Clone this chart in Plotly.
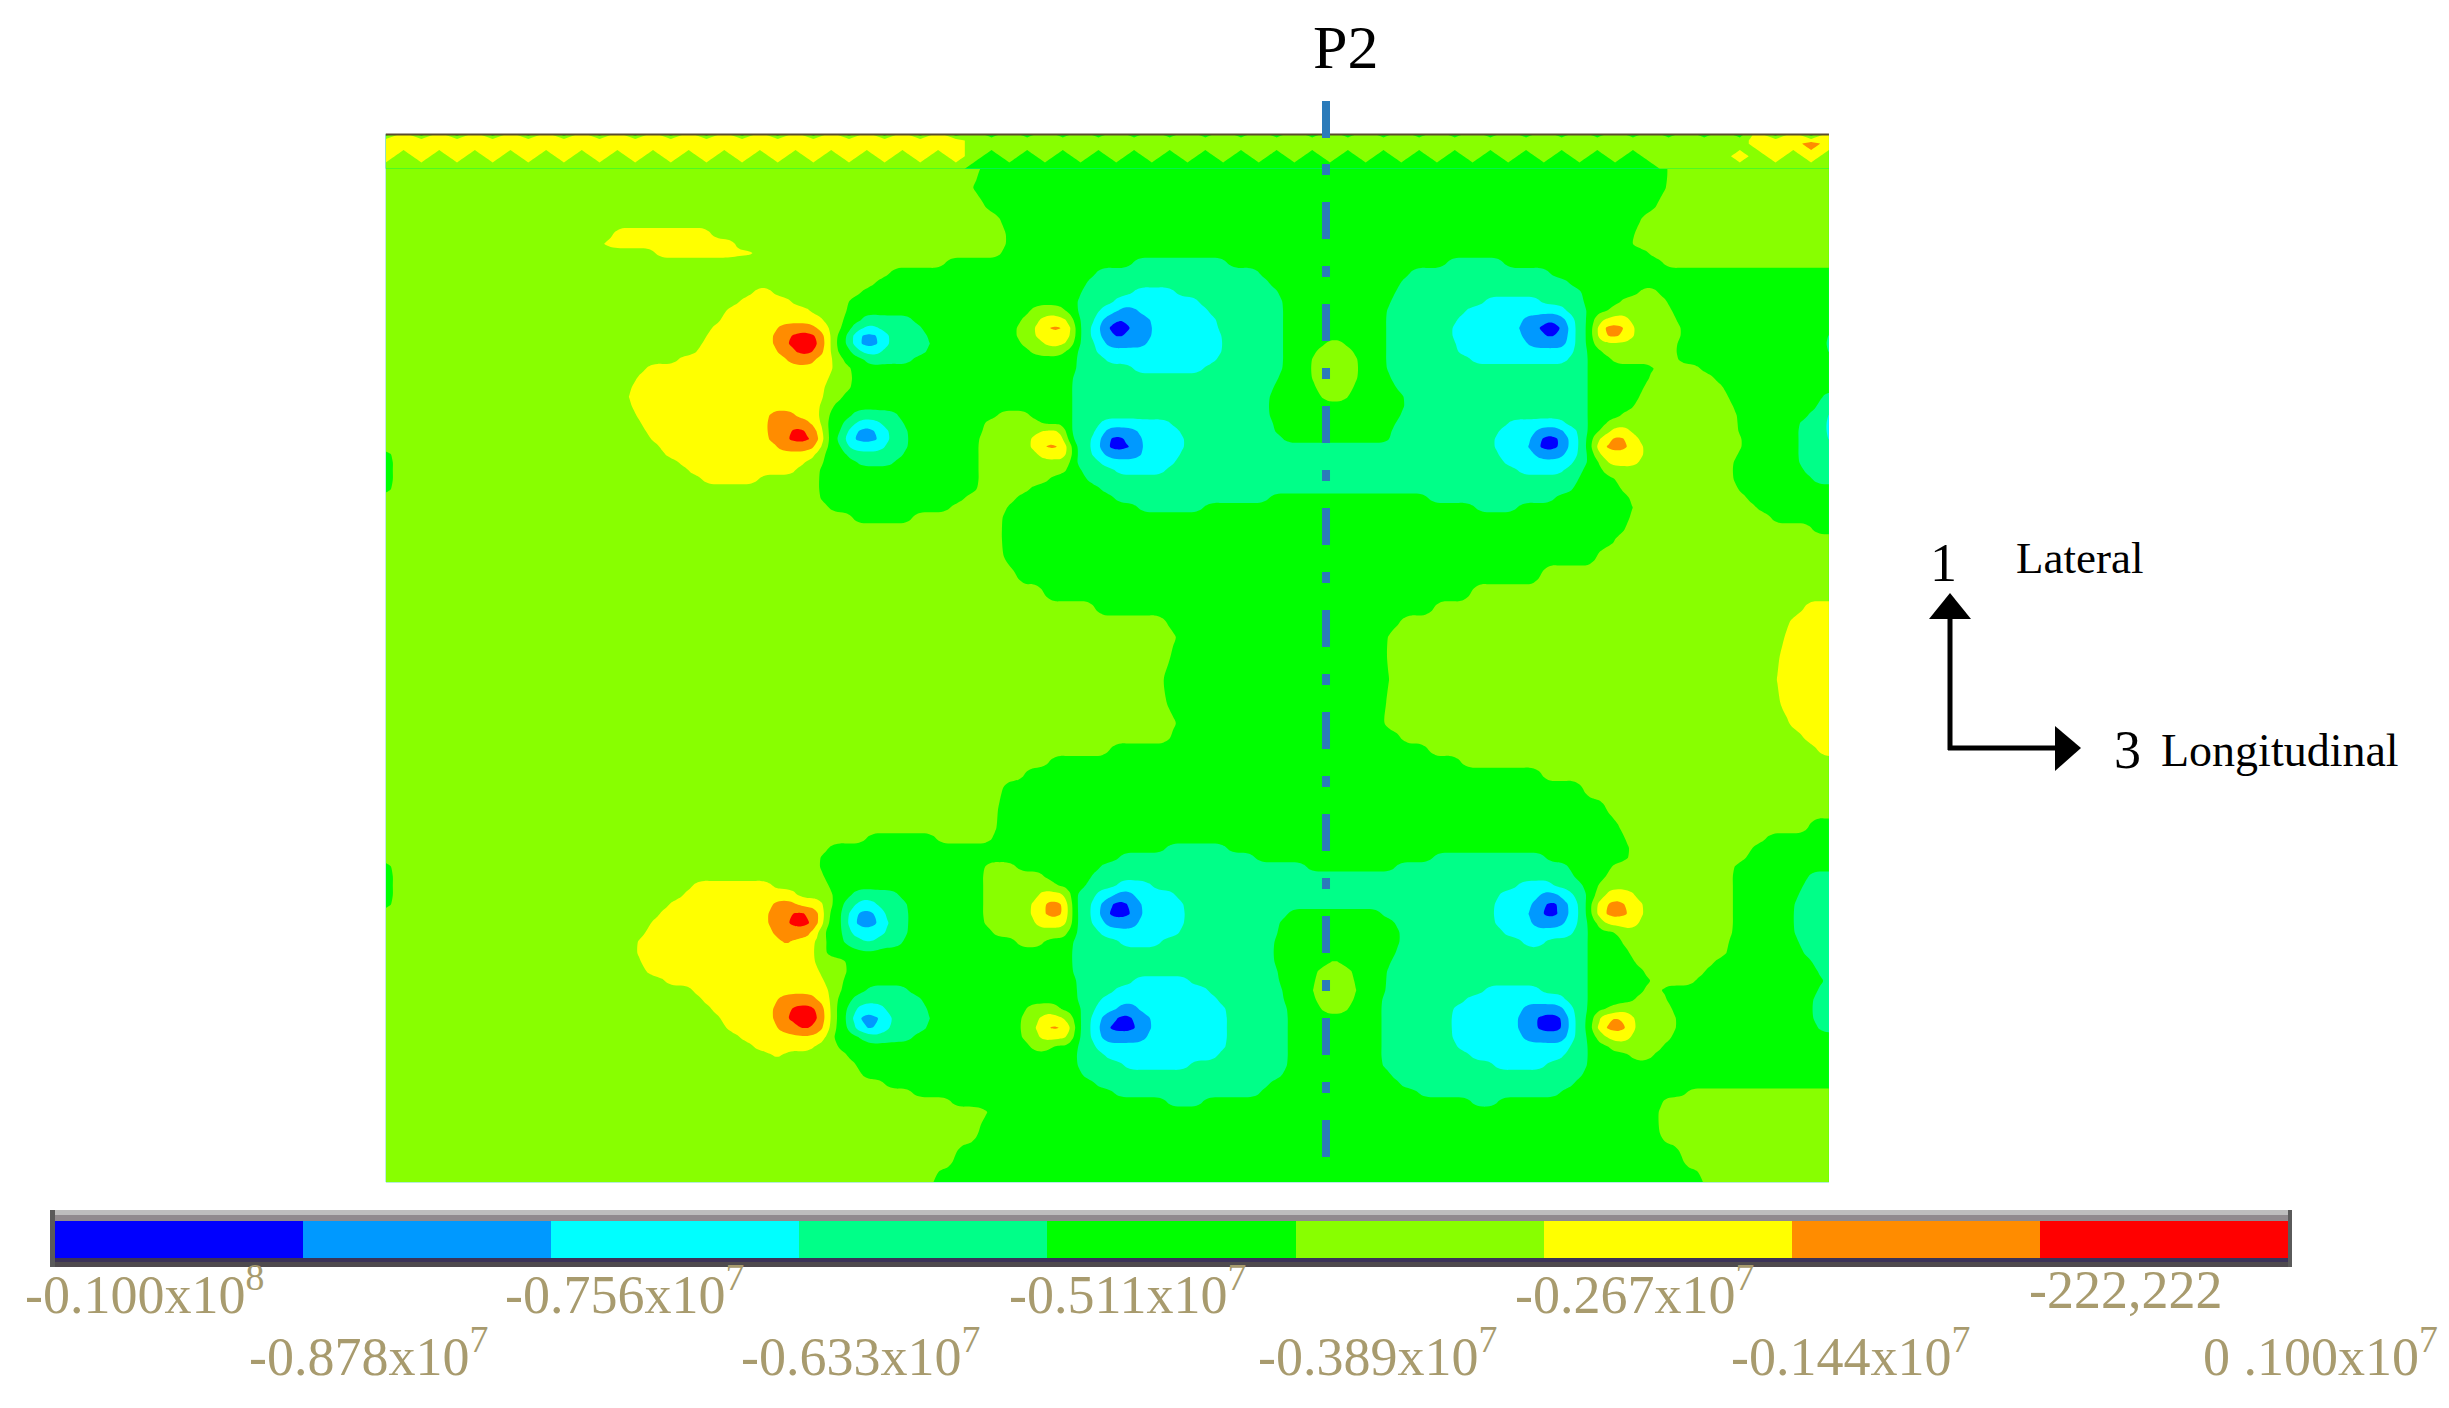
import numpy as np
import plotly.graph_objects as go

W, H = 2449, 1408
K = W / 1568.0  # reference pixels per reading unit

# Nine colour bands and their stress limits (Pa)
band_edges = [-1.0e7, -8.78e6, -7.56e6, -6.33e6, -5.11e6, -3.89e6, -2.67e6, -1.44e6, -222222, 1.0e6]
band_colors = ["#0000ff", "#0099ff", "#00ffff", "#00ff88", "#00ff00", "#88ff00", "#ffff00", "#ff8c00", "#ff0000"]
band_labels_top = ["-0.100x10<sup>8</sup>", "-0.756x10<sup>7</sup>", "-0.511x10<sup>7</sup>", "-0.267x10<sup>7</sup>", "-222,222"]
band_labels_bottom = ["-0.878x10<sup>7</sup>", "-0.633x10<sup>7</sup>", "-0.389x10<sup>7</sup>", "-0.144x10<sup>7</sup>", "0 .100x10<sup>7</sup>"]

# Field: one row per y, "band:x where band ends" runs from left to right
row_y = [86,104,112,120,130,142,150,156,162,168,175,181,187,193,199,205,210,215,220,225,230,236,242,248,254,260,266,271,276,281,286,291,296,301,307,313,319,325,331,339,345,356,368,380,390,398,408,420,435,450,463,472,480,488,495,505,518,530,537,543,549,555,561,567,573,579,585,591,597,603,610,616,622,628,634,640,646,652,658,664,670,676,682,688,694,700,705,712,725,740,757]
row_runs = [
"5:630 4:1066 5",
"5:630 4:1066 5",
"5:625 4:1068 5",
"5:620 4:1068 5",
"5:630 4:1060 5",
"5:640 4:1048 5",
"5:392 6:455 5:645 4:1045 5",
"5:384 6:470 5:643 4:1044 5",
"5:420 6:486 5:642 4:1055 5",
"5:606 4:725 3:785 4:925 3:962 4:1065 5",
"5:570 4:700 3:806 4:902 3:993 4",
"5:560 4:694 3:813 4:895 3:1003 4",
"5:482 6:494 5:552 4:691 3:725 2:752 3:817 4:892 3:1012 4:1050 5:1060 4",
"5:473 6:505 5:543 4:690 3:712 2:767 3:820 4:889 3:950 2:985 3:1014 4:1038 5:1066 4",
"5:465 6:517 5:541 4:660 5:680 4:689 3:703 2:715 1:727 2:774 3:821 4:887 3:937 2:1000 3:1015 4:1030 5:1070 4",
"5:460 6:527 5:539 4:552 3:585 4:652 5:666 6:682 5:688 3:700 2:704 1:713 0:718 1:737 2:778 3:821 4:887 3:932 2:975 1:988 0:994 1:1003 2:1006 3:1016 4:1018 5:1025 6:1042 5:1074 4",
"5:456 6:498 7:522 6:530 5:539 4:545 3:553 2:560 3:591 4:650 5:661 6:669 7:682 6:685 5:688 3:699 2:703 1:707 0:726 1:738 2:780 3:821 4:887 3:930 2:972 1:982 0:1002 1:1004 2:1006 3:1016 4:1018 5:1021 6:1026 7:1040 6:1046 5:1076 4",
"5:453 6:494 7:505 8:523 7:526 6:533 4:541 3:545 2:549 1:563 2:568 3:594 4:650 5:662 6:686 5:688 3:699 2:704 1:712 0:720 1:737 2:781 3:821 4:887 3:930 2:973 1:988 0:996 1:1004 2:1006 3:1016 4:1018 5:1021 6:1026 7:1040 6:1047 5:1076 4:1168 3",
"5:449 6:494 7:504 8:525 7:527 6:533 4:541 3:544 2:549 1:563 2:570 3:595 4:652 5:668 6:684 5:688 3:700 2:707 1:735 2:782 3:821 4:847 5:861 4:887 3:931 2:976 1:1003 2:1006 3:1016 4:1020 5:1074 4:1168 3",
"5:446 6:496 7:510 8:520 7:526 6:533 4:546 3:552 2:562 3:592 4:660 5:680 4:688 3:702 2:782 3:821 4:843 5:865 4:887 3:933 2:1006 3:1016 4:1025 5:1072 4:1168 3",
"5:433 6:502 7:522 6:533 5:540 4:555 3:585 4:688 3:708 2:780 3:821 4:840 5:868 4:887 3:940 2:1003 3:1016 4:1032 5:1072 4",
"5:414 6:533 5:546 4:688 3:725 2:770 3:821 4:839 5:869 4:888 3:1016 4:1060 5:1088 4",
"5:408 6:531 5:545 4:687 3:818 4:840 5:868 4:891 3:1017 4:1056 5:1098 4",
"5:404 6:528 5:544 4:686 3:815 4:841 5:867 4:894 3:1017 4:1053 5:1104 4",
"5:402 6:526 5:540 4:685 3:813 4:845 5:863 4:898 3:1017 4:1050 5:1106 4:1166 3",
"5:403 6:524 5:532 4:685 3:812 4:899 3:1017 4:1045 5:1108 4:1162 3",
"5:406 6:491 7:510 6:525 5:530 4:544 3:574 4:638 5:658 4:685 3:812 4:896 3:1017 4:1038 5:1111 4:1156 3:1168 2",
"5:409 6:491 7:518 6:526 4:539 3:547 2:563 3:579 4:630 5:664 4:685 3:705 2:750 3:814 4:893 3:965 2:1002 3:1017 4:1029 5:1112 4:1152 3:1168 2",
"5:412 6:491 7:506 8:516 7:525 6:527 4:538 3:541 2:547 1:561 2:569 3:581 4:628 5:664 6:680 5:684 3:700 2:708 1:727 2:756 3:815 4:890 3:958 2:983 1:1000 2:1009 3:1017 4:1025 5:1030 6:1042 5:1113 4:1150 3:1168 2",
"5:416 6:491 7:504 8:520 7:526 4:537 3:540 2:544 1:564 2:570 3:582 4:627 5:660 6:684 3:698 2:704 1:710 0:720 1:731 2:757 3:820 4:890 3:957 2:979 1:986 0:997 1:1004 2:1010 3:1017 4:1020 5:1022 6:1030 7:1040 6:1050 5:1114 4:1150 3:1168 2",
"5:421 6:496 7:522 6:527 4:538 3:543 2:567 3:581 4:627 5:659 6:666 7:679 6:686 3:698 2:703 1:706 0:724 1:732 2:757 3:957 2:978 1:984 0:999 1:1005 2:1010 3:1017 4:1020 6:1026 7:1043 6:1053 5:1114 4:1150 3",
"4:252 5:425 6:522 5:528 4:541 3:578 4:627 5:664 6:686 3:699 2:706 1:730 2:756 3:958 2:983 1:1002 2:1009 3:1016 4:1022 6:1052 5:1112 4:1150 3",
"4:252 5:433 6:516 5:527 4:548 3:573 4:627 5:686 3:703 2:752 3:963 2:1006 3:1015 4:1024 5:1028 6:1048 5:1110 4:1152 3",
"4:252 5:440 6:509 5:525 4:627 5:682 4:692 3:712 2:745 3:972 2:1002 3:1012 4:1026 5:1108 4:1155 3",
"4:252 5:448 6:486 5:525 4:627 5:672 4:695 3:1010 4:1034 5:1108 4:1160 3",
"4:251 5:524 4:627 5:660 4:704 3:1006 4:1038 5:1113 4",
"5:525 4:618 5:650 4:712 3:812 4:915 3:994 4:1042 5:1118 4",
"5:530 4:607 5:645 4:728 3:770 4:945 3:970 4:1045 5:1124 4",
"5:545 4:585 5:642 4:1043 5:1132 4",
"5:642 4:1039 5:1160 4",
"5:642 4:1034 5",
"5:642 4:1022 5",
"5:650 4:987 5",
"5:668 4:942 5",
"5:700 4:917 5:1154 6",
"5:746 4:897 5:1146 6",
"5:755 4:886 5:1142 6",
"5:748 4:888 5:1139 6",
"5:742 4:890 5:1137 6",
"5:745 4:887 5:1139 6",
"5:755 4:884 5:1146 6",
"5:748 4:895 5:1155 6",
"5:710 4:914 5:1162 6",
"5:670 4:935 5",
"5:655 4:985 5",
"5:640 4:1012 5",
"5:639 4:1027 5",
"5:639 4:1036 5:1158 4",
"5:555 4:600 5:634 4:1040 5:1130 4",
"5:529 4:745 3:785 4:1044 5:1122 4",
"5:524 4:715 3:803 4:918 3:990 4:1042 5:1118 4",
"4:250 5:524 4:630 5:650 4:703 3:835 4:892 3:1003 4:1032 5:1108 4",
"4:251 5:526 4:628 5:668 4:697 3:1008 4:1027 5:1108 4:1158 3",
"4:252 5:443 6:495 5:530 4:629 5:674 4:694 3:716 2:738 3:972 2:993 3:1012 4:1023 5:1108 4:1153 3",
"4:252 5:436 6:510 5:533 4:545 3:575 4:628 5:666 6:682 5:687 3:701 2:712 1:724 2:752 3:960 2:985 1:997 2:1006 3:1016 4:1022 5:1027 6:1046 5:1108 4:1150 3",
"4:252 5:428 6:495 7:508 6:526 5:533 4:539 3:549 2:561 3:580 4:628 5:660 6:668 7:680 6:686 3:699 2:705 1:709 0:723 1:731 2:757 3:957 2:980 1:988 0:997 1:1003 2:1009 3:1017 4:1020 6:1028 7:1041 6:1052 5:1108 4:1149 3",
"5:422 6:491 7:506 8:519 7:527 4:538 3:542 2:548 1:560 2:566 3:582 4:629 5:659 6:668 7:680 6:686 3:698 2:704 1:708 0:724 1:732 2:758 3:824 4:884 3:955 2:977 1:986 0:999 1:1005 2:1010 3:1017 4:1020 6:1025 7:1044 6:1053 5:1108 4:1148 3",
"5:416 6:491 7:504 8:521 7:526 4:538 3:541 2:544 1:563 2:568 3:582 4:630 5:662 6:686 3:699 2:707 1:729 2:757 3:819 4:893 3:956 2:980 1:1002 2:1010 3:1017 4:1024 6:1050 5:1108 4:1148 3",
"5:412 6:495 7:518 6:524 4:538 3:544 2:565 3:581 4:636 5:684 4:690 3:704 2:754 3:817 4:895 3:962 2:1006 3:1017 4:1036 5:1108 4:1148 3",
"5:407 6:500 7:507 6:522 5:530 4:540 3:552 2:560 3:578 4:650 5:668 4:687 3:715 2:742 3:815 4:896 3:975 2:990 3:1017 4:1038 5:1107 4:1150 3",
"5:406 6:521 5:528 4:685 3:815 4:893 3:1017 4:1042 5:1105 4:1153 3",
"5:410 6:521 5:541 4:685 3:815 4:850 5:858 4:890 3:1017 4:1047 5:1098 4:1160 3",
"5:414 6:523 5:541 4:687 3:817 4:843 5:865 4:888 3:1017 4:1052 5:1091 4:1163 3",
"5:424 6:526 5:540 4:689 3:725 2:760 3:818 4:841 5:867 4:887 3:1017 4:1058 5:1085 4:1168 3",
"5:444 6:530 5:538 4:555 3:580 4:690 3:712 2:772 3:820 4:840 5:868 4:887 3:950 2:985 3:1017 4:1052 5:1062 4:1162 3",
"5:450 6:498 7:522 6:532 4:545 3:590 4:690 3:703 2:780 3:822 4:841 5:867 4:885 3:937 2:1000 3:1017 4:1045 5:1067 4:1161 3",
"5:456 6:495 7:505 8:523 7:526 6:533 4:541 3:547 2:567 3:594 4:656 5:678 4:691 3:700 2:715 1:728 2:785 3:824 4:845 5:862 4:885 3:930 2:974 1:1002 2:1006 3:1017 4:1033 5:1071 4:1161 3",
"5:461 6:494 7:504 8:525 7:527 6:533 4:541 3:544 2:549 1:564 2:571 3:595 4:653 5:665 6:680 5:688 3:698 2:703 1:712 0:724 1:738 2:786 3:824 4:884 3:928 2:972 1:984 0:1000 1:1004 2:1008 3:1017 4:1020 5:1024 6:1026 7:1040 6:1046 5:1073 4:1161 3",
"5:465 6:496 7:508 8:520 7:527 6:532 4:542 3:547 2:549 1:564 2:569 3:594 4:653 5:663 6:668 7:682 6:686 5:688 3:698 2:703 1:708 0:727 1:738 2:786 3:825 4:884 3:928 2:972 1:982 0:1002 1:1004 2:1008 3:1017 4:1018 5:1020 6:1024 7:1042 6:1047 5:1073 4:1163 3",
"5:472 6:529 4:555 3:585 4:654 5:665 6:684 5:688 3:699 2:705 1:735 2:786 3:825 4:884 3:929 2:975 1:1003 2:1007 3:1017 4:1022 5:1028 6:1042 5:1070 4",
"5:482 6:522 5:536 4:658 5:672 4:689 3:702 2:784 3:825 4:884 3:933 2:1005 3:1017 4:1032 5:1065 4",
"5:495 6:500 5:542 4:688 3:708 2:778 3:825 4:884 3:940 2:1000 3:1017 4:1042 5:1058 4",
"5:547 4:688 3:720 2:762 3:825 4:885 3:955 2:988 3:1016 4",
"5:552 4:692 3:822 4:890 3:1014 4",
"5:565 4:700 3:813 4:897 3:1006 4",
"5:585 4:712 3:805 4:909 3:998 4:1078 5",
"5:608 4:745 3:770 4:940 3:960 4:1064 5",
"5:636 4:1060 5",
"5:625 4:1062 5",
"5:610 4:1075 5",
"5:596 4:1090 5",
]

# Serrated strip along the top edge: one character per column, one string per y
strip_y = [86, 90, 92, 100, 108]
strip_rows = [
"4646464646464646464646464646464645454545454545454545454545454545454545454545464646",
"6666666666666666666666666666666665555555555555555555555555555555555555555555566666",
"6666666666666666666666666666666665555555555555555555555555555555555555555555566676",
"6565656565656565656565656565656565454545454545454545454545454545454545455555656565",
"5555555555555555555555555555555554444444444444444444444444444444444444445555555555",
]

dash_y = [105, 757]
dash_x = [849, 849]

X0, X1, Y0, Y1 = 247, 1171, 86, 757


def px(v):
    return v / W


def py(v):
    return 1 - v / H


grid_x = list(range(X0, X1 + 1, 3))
mids = [(band_edges[i] + band_edges[i + 1]) / 2 for i in range(9)]


def expand(run):
    parts = run.split()
    out = []
    for x in grid_x:
        val = None
        for p in parts:
            if ":" in p:
                lev, end = p.split(":")
                if x <= int(end):
                    val = int(lev)
                    break
            else:
                val = int(p)
        out.append(mids[val])
    return out


field = np.array([expand(r) for r in row_runs])
# soften the row-to-row steps of the hand reading so that band outlines stay smooth
pad = np.pad(field, ((1, 1), (2, 2)), mode="edge")
kx = np.array([1, 2, 3, 2, 1]) / 9
ky = np.array([0.2, 0.6, 0.2])
soft = np.apply_along_axis(lambda r: np.convolve(r, kx, mode="valid"), 1, pad)
soft = np.apply_along_axis(lambda c: np.convolve(c, ky, mode="valid"), 0, soft)

strip_x = [X0 + i * (X1 - X0) / (len(strip_rows[0]) - 1) for i in range(len(strip_rows[0]))]
strip = [[mids[int(c)] for c in r] for r in strip_rows]

cscale = [[i / 8, c] for i, c in enumerate(band_colors)]
size = (band_edges[8] - band_edges[1]) / 7
cont = dict(start=band_edges[1], end=band_edges[8] + size * 0.01, size=size, coloring="fill", showlines=False)

fig = go.Figure()
fig.add_trace(go.Contour(x=grid_x, y=row_y, z=soft.tolist(), contours=cont, colorscale=cscale, showscale=False,
                         line=dict(width=0, smoothing=0.9), hoverinfo="skip"))
fig.add_trace(go.Contour(x=strip_x, y=strip_y, z=strip, contours=cont, colorscale=cscale, showscale=False,
                         line=dict(width=0, smoothing=0), hoverinfo="skip"))
fig.add_trace(go.Scatter(x=dash_x, y=dash_y, mode="lines", hoverinfo="skip",
                         line=dict(color="#2b7bba", width=8, dash="11px,27px,37px,27px")))

# Colour key
discrete = []
for i, c in enumerate(band_colors):
    discrete += [[i / 9, c], [(i + 1) / 9, c]]
fig.add_trace(go.Heatmap(x=band_edges, y=[0, 1], z=[mids], zmin=band_edges[0], zmax=band_edges[-1],
                         colorscale=discrete, showscale=False, xaxis="x2", yaxis="y2", hoverinfo="skip"))

shapes = []


def rect(x0, y0, x1, y1, color):
    shapes.append(dict(type="rect", xref="paper", yref="paper", x0=px(x0), x1=px(x1), y0=py(y0), y1=py(y1),
                       fillcolor=color, line=dict(width=0)))


rect(50, 1210, 2292, 1215, "#bdbdbd")
rect(50, 1215, 2292, 1221, "#908a8e")
rect(50, 1258, 2292, 1262, "#3b3358")
rect(50, 1262, 2292, 1267, "#4f4a4e")
rect(50, 1210, 55, 1267, "#5a5a5a")
rect(2288, 1210, 2292, 1267, "#5a5a5a")
# top edge of the field
shapes.append(dict(type="line", xref="paper", yref="paper", x0=px(X0 * K), x1=px(X1 * K), y0=py(134.5), y1=py(134.5),
                   line=dict(color="#5a4b2c", width=2)))
# section mark above the field
shapes.append(dict(type="line", xref="paper", yref="paper", x0=px(1326), x1=px(1326), y0=py(101), y1=py(138),
                   line=dict(color="#2b7bba", width=8)))
# direction arrows
shapes.append(dict(type="line", xref="paper", yref="paper", x0=px(1950), x1=px(1950), y0=py(750), y1=py(615),
                   line=dict(color="black", width=5)))
shapes.append(dict(type="line", xref="paper", yref="paper", x0=px(1948), x1=px(2058), y0=py(748), y1=py(748),
                   line=dict(color="black", width=5)))
shapes.append(dict(type="path", xref="paper", yref="paper", fillcolor="black", line=dict(width=0),
                   path=f"M {px(1950)} {py(593)} L {px(1971)} {py(619)} L {px(1929)} {py(619)} Z"))
shapes.append(dict(type="path", xref="paper", yref="paper", fillcolor="black", line=dict(width=0),
                   path=f"M {px(2081)} {py(748)} L {px(2055)} {py(771)} L {px(2055)} {py(726)} Z"))

ann = []
SERIF = "Liberation Serif"


def label(text, x, y, size, color="black", anchor="left"):
    ann.append(dict(text=text, x=px(x), y=py(y), xref="paper", yref="paper", showarrow=False, xanchor=anchor,
                    yanchor="middle", font=dict(family=SERIF, size=size, color=color)))


top_left = [15, 322, 645, 969, 1298]
bot_left = [158, 473, 804, 1107, 1409]
for t, l in zip(band_labels_top, top_left):
    label(t, l * K, 1290, 54, "#a89b6e")
for t, l in zip(band_labels_bottom, bot_left):
    label(t, l * K, 1352, 54, "#a89b6e")
label("P2", 1345, 47, 62, anchor="center")
label("1", 1943, 563, 54, anchor="center")
label("Lateral", 2014, 558, 45)
label("3", 2127, 750, 54, anchor="center")
label("Longitudinal", 2159, 751, 46)

fig.update_layout(
    width=W, height=H, margin=dict(l=0, r=0, t=0, b=0), paper_bgcolor="white", plot_bgcolor="white",
    showlegend=False, shapes=shapes, annotations=ann,
    xaxis=dict(domain=[px(X0 * K), px(X1 * K)], range=[X0, X1], visible=False),
    yaxis=dict(domain=[py(Y1 * K), py(Y0 * K)], range=[Y1, Y0], visible=False),
    xaxis2=dict(domain=[px(55), px(2288)], range=[band_edges[0], band_edges[-1]], visible=False, anchor="y2"),
    yaxis2=dict(domain=[py(1258), py(1221)], range=[0, 1], visible=False, anchor="x2"),
)
fig.write_html("out.html", config=dict(displayModeBar=False),
               post_script="document.body.style.margin='0';document.documentElement.style.overflow='hidden';")
